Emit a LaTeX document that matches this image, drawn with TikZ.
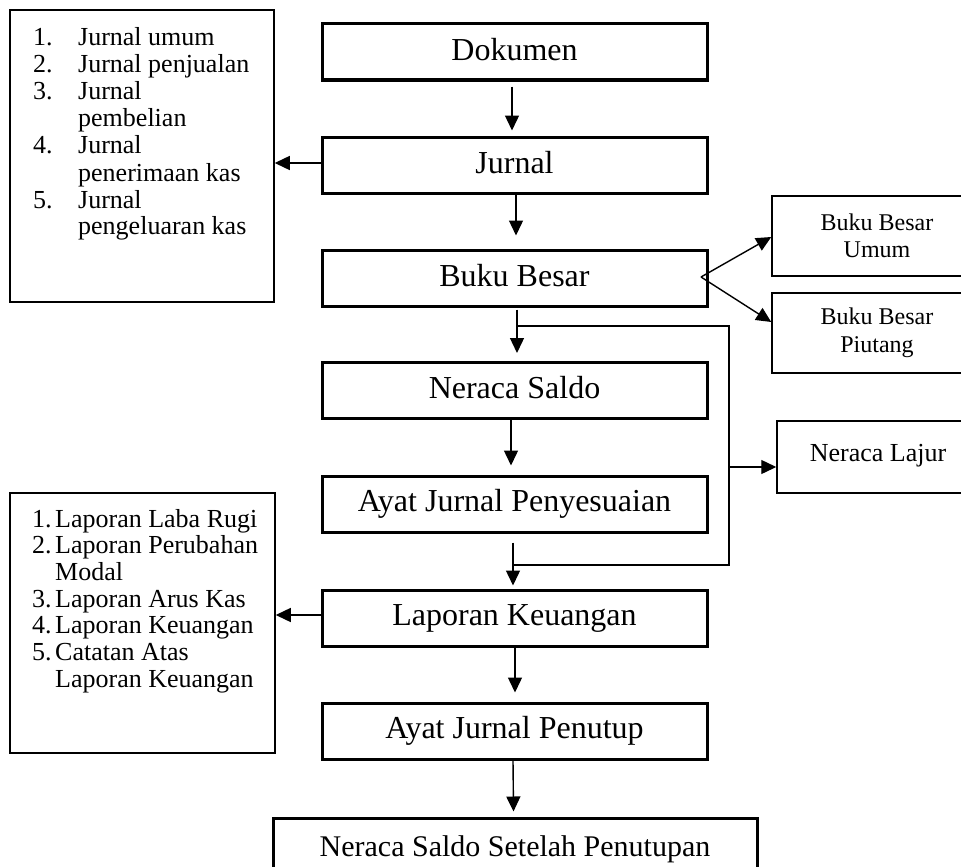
\documentclass[tikz,border=0pt]{standalone}
\usepackage{fontspec}
\setmainfont{Liberation Serif}
\usetikzlibrary{arrows.meta,calc}
\begin{document}
\begin{tikzpicture}[x=1pt,y=-1pt,
  mainbox/.style={draw, line width=3pt, minimum width=385pt, minimum height=56pt, inner sep=0pt, font=\fontsize{32}{38}\selectfont},
  sidebox/.style={draw, line width=1.5pt, inner sep=0pt},
  conn/.style={line width=1.4pt},
  arr/.style={conn, -{Triangle[length=15pt,width=14pt]}},
  ]
\useasboundingbox (0,0) rectangle (961,867);

% main column
\node[mainbox] (dok) at (514.5,52) {\raisebox{6pt}{Dokumen}};
\node[mainbox] (jur) at (514.5,165) {\raisebox{6pt}{Jurnal}};
\node[mainbox] (bb) at (514.5,278) {\raisebox{6pt}{Buku Besar}};
\node[mainbox] (ns) at (514.5,390.5) {\raisebox{6pt}{Neraca Saldo}};
\node[mainbox] (ajp) at (514.5,504) {\raisebox{6pt}{Ayat Jurnal Penyesuaian}};
\node[mainbox] (lk) at (514.5,618) {\raisebox{6pt}{Laporan Keuangan}};
\node[mainbox] (ajpen) at (514.5,731) {\raisebox{6pt}{Ayat Jurnal Penutup}};
\node[mainbox, minimum width=484pt, minimum height=62pt, font=\fontsize{30}{36}\selectfont] (nssp) at (515,849) {\raisebox{2pt}{Neraca Saldo Setelah Penutupan}};

% right boxes
\node[sidebox, minimum width=210pt, minimum height=80pt, align=center, font=\fontsize{24}{27}\selectfont] (bbu) at (877,236) {Buku Besar\\Umum};
\node[sidebox, minimum width=210pt, minimum height=80pt, align=center, font=\fontsize{24}{28}\selectfont] (bbp) at (877,333) {Buku Besar\\Piutang};
\node[sidebox, minimum width=202pt, minimum height=72pt, font=\fontsize{26}{30}\selectfont] (nl) at (878,457) {\raisebox{9pt}{Neraca Lajur}};

% left boxes
\node[sidebox, minimum width=264pt, minimum height=292pt] (l1) at (142,156) {};
\node[sidebox, minimum width=265pt, minimum height=260pt] (l2) at (142.5,623) {};

\node[anchor=base west, inner sep=0pt, font=\fontsize{26}{27}\selectfont] (t1) at (33,46) {%
\begin{tabular}[t]{@{}p{45pt}@{}l@{}}
1. & Jurnal umum\\
2. & Jurnal penjualan\\
3. & Jurnal\\
   & pembelian\\
4. & Jurnal\\
   & penerimaan kas\\
5. & Jurnal\\
   & pengeluaran kas
\end{tabular}};

\node[anchor=base west, inner sep=0pt, font=\fontsize{26}{26.7}\selectfont] (t2) at (32,527) {%
\begin{tabular}[t]{@{}p{23pt}@{}l@{}}
1. & Laporan Laba Rugi\\
2. & Laporan Perubahan\\
   & Modal\\
3. & Laporan Arus Kas\\
4. & Laporan Keuangan\\
5. & Catatan Atas\\
   & Laporan Keuangan
\end{tabular}};

% connectors
\draw[arr] ([xshift=-2.5pt,yshift=-5pt]dok.south) -- ([xshift=-2.5pt,yshift=5pt]jur.north);
\draw[arr] ([xshift=1.5pt]jur.south) -- ([xshift=1.5pt,yshift=13pt]bb.north);
\draw[arr] ([yshift=2pt]jur.west) -- ([yshift=2pt]jur.west -| l1.east);

\coordinate (br) at (701,277);
\draw[arr] (br) -- (bbu.west |- 0,237);
\draw[arr] (br) -- (bbp.west |- 0,322);

\draw[arr] ([xshift=2.5pt,yshift=-2pt]bb.south) -- ([xshift=2.5pt,yshift=8pt]ns.north);
\coordinate (fa) at (517,326);
\coordinate (fb) at (729,326);
\coordinate (fc) at (729,565);
\coordinate (fd) at (513,565);
\draw[conn] (fa) -- (fb) -- (fc) -- (fd);
\coordinate (fm) at (729,467);
\draw[arr] (fm) -- (fm -| nl.west);

\draw[arr] ([xshift=-3.5pt]ns.south) -- ([xshift=-3.5pt,yshift=9pt]ajp.north);
\draw[arr] ([xshift=-1.5pt,yshift=-9pt]ajp.south) -- ([xshift=-1.5pt,yshift=3pt]lk.north);
\draw[arr] ([yshift=3pt]lk.west) -- ([yshift=3pt]lk.west -| l2.east);
\draw[arr] ([xshift=0.5pt]lk.south) -- ([xshift=0.5pt,yshift=9pt]ajpen.north);
\draw[arr] ([xshift=-1.5pt]ajpen.south) -- ([xshift=-1.5pt,yshift=5pt]nssp.north);
\end{tikzpicture}
\end{document}
